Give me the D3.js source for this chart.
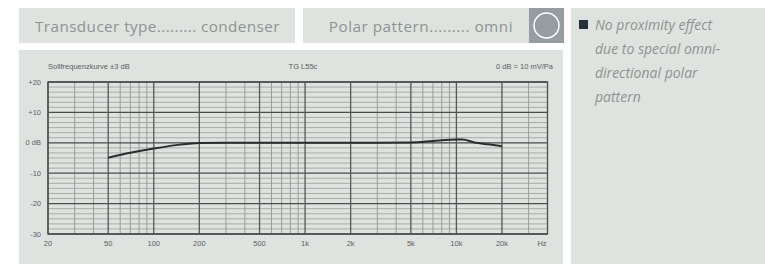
<!DOCTYPE html>
<html>
<head>
<meta charset="utf-8">
<script src="https://cdn.jsdelivr.net/npm/d3@7"></script>
<style>
  body { margin: 0; background: #fff; }
  svg { display: block; }
</style>
</head>
<body>
<svg id="chart" width="765" height="264"></svg>
<script>
// frequency response of TG L55c
const freqs = [50, 70, 100, 150, 200, 300, 1000, 3000, 5000, 7000, 9000, 10000, 11000, 13000, 16000, 20000]
const levels = [-4.9, -3.3, -1.9, -0.6, -0.1, 0, 0, 0, 0.1, 0.6, 1.0, 1.1, 1.1, 0.2, -0.5, -1.1]

const freqTicks = [20, 50, 100, 200, 500, 1000, 2000, 5000, 10000, 20000]
const freqTickLabels = ["20", "50", "100", "200", "500", "1k", "2k", "5k", "10k", "20k"]
const freqMinor = [30, 40, 60, 70, 80, 90, 300, 400, 600, 700, 800, 900,
                   3000, 4000, 6000, 7000, 8000, 9000, 30000]
const dbTicks = [20, 10, 0, -10, -20, -30]
const dbTickLabels = ["+20", "+10", "0 dB", "-10", "-20", "-30"]

const specs = ["Transducer type......... condenser", "Polar pattern......... omni"]
const notes = ["No proximity effect", "due to special omni-", "directional polar", "pattern"]

const panel = "#dfe3df"
const textGrey = "#8e9392"

var svg = d3.select("#chart")

// top boxes
svg.append("rect").attr("x", 19).attr("y", 8).attr("width", 276).attr("height", 35).attr("fill", panel)
svg.append("rect").attr("x", 303).attr("y", 8).attr("width", 226).attr("height", 35).attr("fill", panel)
svg.append("rect").attr("x", 529).attr("y", 8).attr("width", 35).attr("height", 35).attr("fill", "#959ca2")
svg.append("circle").attr("cx", 546.5).attr("cy", 25.5).attr("r", 12.5)
   .attr("fill", "none").attr("stroke", "#fff").attr("stroke-width", 1.5)

svg.append("text").attr("x", 35).attr("y", 32).text(specs[0])
   .attr("font-family", "Open Sans").attr("font-size", 15.3).attr("letter-spacing", 0.4).attr("fill", textGrey)
svg.append("text").attr("x", 513).attr("y", 32).attr("text-anchor", "end").text(specs[1])
   .attr("font-family", "Open Sans").attr("font-size", 15.3).attr("letter-spacing", 0.5).attr("fill", textGrey)

// right notes panel
svg.append("rect").attr("x", 571).attr("y", 8).attr("width", 194).attr("height", 256).attr("fill", panel)
svg.append("rect").attr("x", 579).attr("y", 20).attr("width", 9).attr("height", 9).attr("fill", "#26323a")
svg.selectAll(".note").data(notes).enter().append("text")
   .attr("x", 595).attr("y", (d, i) => 30 + i * 24)
   .attr("font-family", "Open Sans").attr("font-style", "italic")
   .attr("font-size", 14).attr("fill", textGrey).text(d => d)

// chart panel
svg.append("rect").attr("x", 19).attr("y", 50).attr("width", 544).attr("height", 214).attr("fill", panel)

var x = d3.scaleLog().domain([20, 40000]).range([48, 547.5])
var y = d3.scaleLinear().domain([-30, 20]).range([234, 82])

var g = svg.append("g")

// minor horizontal lines, 6 steps per 10 dB
var minorDb = []
for (let k = -30; k < 20; k += 10) {
  for (let j = 1; j < 6; j++) minorDb.push(k + j * 10 / 6)
}
g.selectAll(".hmin").data(minorDb).enter().append("line")
  .attr("x1", x(20)).attr("x2", x(40000))
  .attr("y1", d => y(d)).attr("y2", d => y(d))
  .attr("stroke", "#a9adaa").attr("stroke-width", 1)

g.selectAll(".vmin").data(freqMinor).enter().append("line")
  .attr("x1", d => x(d)).attr("x2", d => x(d))
  .attr("y1", y(20)).attr("y2", y(-30))
  .attr("stroke", "#9a9e9b").attr("stroke-width", 1)

g.selectAll(".hmaj").data(dbTicks).enter().append("line")
  .attr("x1", x(20)).attr("x2", x(40000))
  .attr("y1", d => y(d)).attr("y2", d => y(d))
  .attr("stroke", "#4a4d4c").attr("stroke-width", 1.3)

g.selectAll(".vmaj").data(freqTicks).enter().append("line")
  .attr("x1", d => x(d)).attr("x2", d => x(d))
  .attr("y1", y(20)).attr("y2", y(-30))
  .attr("stroke", "#555857").attr("stroke-width", 1.3)

g.append("rect").attr("x", x(20)).attr("y", y(20))
  .attr("width", x(40000) - x(20)).attr("height", y(-30) - y(20))
  .attr("fill", "none").attr("stroke", "#4a4d4c").attr("stroke-width", 1.3)

// tick labels
var small = { "font-family": "Liberation Sans", "font-size": 7.5, "fill": "#5d605f" }
function styl(sel) { for (let k in small) sel.attr(k, small[k]); return sel }

styl(g.selectAll(".ylab").data(dbTicks).enter().append("text")
  .attr("x", 41).attr("y", d => y(d) + 2.6).attr("text-anchor", "end")
  .text((d, i) => dbTickLabels[i]))

styl(g.selectAll(".xlab").data(freqTicks).enter().append("text")
  .attr("x", d => x(d)).attr("y", 246).attr("text-anchor", "middle")
  .text((d, i) => freqTickLabels[i]))

styl(g.append("text").attr("x", 542).attr("y", 246).attr("text-anchor", "middle").text("Hz"))
styl(g.append("text").attr("x", 48).attr("y", 69).text("Sollfrequenzkurve \u00b13 dB"))
styl(g.append("text").attr("x", 303).attr("y", 69).attr("text-anchor", "middle").text("TG L55c"))
styl(g.append("text").attr("x", 553).attr("y", 69).attr("text-anchor", "end").text("0 dB = 10 mV/Pa"))

// response curve
var line = d3.line()
  .x((d, i) => x(freqs[i]))
  .y(d => y(d))
  .curve(d3.curveMonotoneX)

g.append("path").datum(levels)
  .attr("d", line)
  .attr("fill", "none").attr("stroke", "#2b2d2d").attr("stroke-width", 2)
</script>
</body>
</html>
